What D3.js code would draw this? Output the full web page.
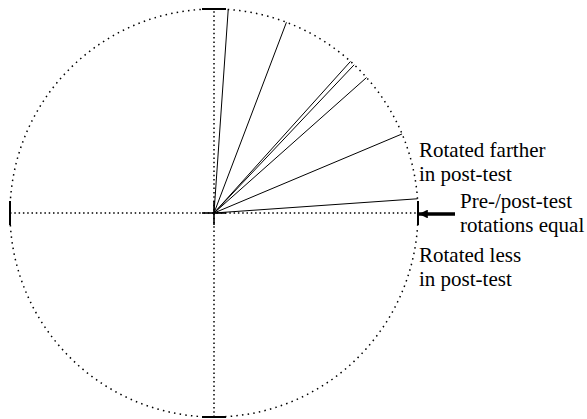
<!DOCTYPE html>
<html>
<head>
    <title>Pre/post-test rotations</title>
    <script src="https://cdn.jsdelivr.net/npm/d3@7"></script>
    <style>
        body { margin: 0; background: #fff; }
        text { font-family: "Liberation Serif", "Times New Roman", serif; font-size: 21px; fill: #000; }
    </style>
</head>
<body>
    <svg width="587" height="419"></svg>
    <script>
        // angle of each subject's line, degrees counter-clockwise from "equal" (3 o'clock)
        var angles = [86, 69.2, 48, 46.6, 41.6, 22.8, 4];

        // cardinal tick marks on the circle
        var tickAngles = [0, 90, 180, 270];

        var labelLines = [
            {text: "Rotated farther", dx: 205, dy: -56},
            {text: "in post-test", dx: 205, dy: -32},
            {text: "Pre-/post-test", dx: 246, dy: -5},
            {text: "rotations equal", dx: 246, dy: 19},
            {text: "Rotated less", dx: 205, dy: 49},
            {text: "in post-test", dx: 205, dy: 73}
        ];

        var svg = d3.select("svg"),
            cx = 214, cy = 213, R = 204;

        var ang = d3.scaleLinear().domain([0, 360]).range([0, 2 * Math.PI]);
        var rad = d3.scaleLinear().domain([0, 1]).range([0, R]);

        function px(a, r) { return cx + rad(r) * Math.cos(ang(a)); }
        function py(a, r) { return cy - rad(r) * Math.sin(ang(a)); }

        var g = svg.append("g");

        // dotted circle
        g.append("circle")
            .attr("cx", cx).attr("cy", cy).attr("r", rad(1))
            .attr("fill", "none")
            .attr("stroke", "#000")
            .attr("stroke-width", 1.5)
            .attr("stroke-dasharray", "1.5,4.2");

        // dotted axes through centre
        g.selectAll("line.axis")
            .data([0, 90])
            .enter().append("line")
            .attr("class", "axis")
            .attr("x1", function(d) { return px(d + 180, 1); })
            .attr("y1", function(d) { return py(d + 180, 1); })
            .attr("x2", function(d) { return px(d, 1); })
            .attr("y2", function(d) { return py(d, 1); })
            .attr("stroke", "#000")
            .attr("stroke-width", 1.5)
            .attr("stroke-dasharray", "1.5,2.8");

        // tick marks at the cardinal points and a cross at the centre
        var tl = 12;
        g.selectAll("line.tick")
            .data(tickAngles)
            .enter().append("line")
            .attr("class", "tick")
            .attr("x1", function(d) { return px(d, 1) - tl * Math.sin(ang(d)); })
            .attr("y1", function(d) { return py(d, 1) - tl * Math.cos(ang(d)); })
            .attr("x2", function(d) { return px(d, 1) + tl * Math.sin(ang(d)); })
            .attr("y2", function(d) { return py(d, 1) + tl * Math.cos(ang(d)); })
            .attr("stroke", "#000")
            .attr("stroke-width", 2);

        g.selectAll("line.centre")
            .data([0, 90])
            .enter().append("line")
            .attr("class", "centre")
            .attr("x1", function(d) { return cx - tl * Math.cos(ang(d)); })
            .attr("y1", function(d) { return cy - tl * Math.sin(ang(d)); })
            .attr("x2", function(d) { return cx + tl * Math.cos(ang(d)); })
            .attr("y2", function(d) { return cy + tl * Math.sin(ang(d)); })
            .attr("stroke", "#000")
            .attr("stroke-width", 1.6);

        // the subject lines
        g.selectAll("line.subj")
            .data(angles)
            .enter().append("line")
            .attr("class", "subj")
            .attr("x1", cx).attr("y1", cy)
            .attr("x2", function(d) { return px(d, 1); })
            .attr("y2", function(d) { return py(d, 1); })
            .attr("stroke", "#000")
            .attr("stroke-width", 1);

        // arrow pointing at the "equal" position
        svg.append("defs").append("marker")
            .attr("id", "head")
            .attr("viewBox", "0 0 10 10")
            .attr("refX", 10).attr("refY", 5)
            .attr("markerWidth", 3.6).attr("markerHeight", 2.6)
            .attr("markerUnits", "strokeWidth")
            .attr("orient", "auto")
            .append("path")
            .attr("d", "M0,0L10,5L0,10Z")
            .attr("fill", "#000");

        svg.append("line")
            .attr("x1", px(0, 1) + 37).attr("y1", cy + 1)
            .attr("x2", px(0, 1) + 1).attr("y2", cy + 1)
            .attr("stroke", "#000")
            .attr("stroke-width", 3.4)
            .attr("marker-end", "url(#head)");

        svg.selectAll("text.lab")
            .data(labelLines)
            .enter().append("text")
            .attr("class", "lab")
            .attr("x", function(d) { return cx + d.dx; })
            .attr("y", function(d) { return cy + d.dy; })
            .text(function(d) { return d.text; });
    </script>
</body>
</html>
